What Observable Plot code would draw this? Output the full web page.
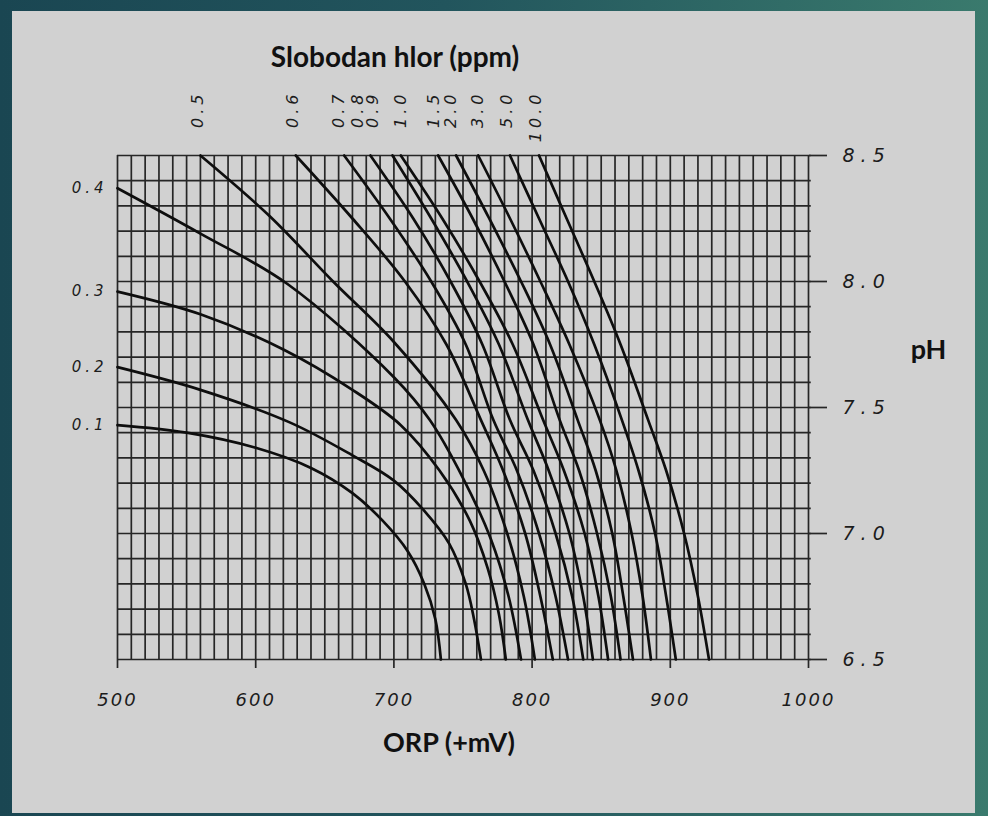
<!DOCTYPE html>
<html><head><meta charset="utf-8">
<script src="https://cdn.jsdelivr.net/npm/d3@7"></script>
<script src="https://cdn.jsdelivr.net/npm/@observablehq/plot@0.6"></script>
<style>
html,body{margin:0;padding:0;width:988px;height:816px;overflow:hidden;}
body{background:linear-gradient(90deg,#1a4652 0%,#22555d 45%,#3a7a6d 100%);position:relative;}
#panel{position:absolute;left:12px;top:11px;width:963px;height:802px;background:#d1d1d1;}
#chart{position:absolute;left:0;top:0;}
</style></head><body><div id="panel"></div><div id="chart"></div>
<script>
// Axis ticks and labels
const xTicks = [500, 600, 700, 800, 900, 1000];
const xTickLabels = ["500", "600", "700", "800", "900", "1000"];
const yTicks = [6.5, 7.0, 7.5, 8.0, 8.5];
const yTickLabels = ["6.5", "7.0", "7.5", "8.0", "8.5"];
const gridMV = d3.range(500, 1001, 10);
const gridPH = d3.range(65, 86).map(v => v / 10);

// Free chlorine curves: [ORP mV, pH]
const c0_1 = [[500,7.43],[550,7.40],[600,7.34],[640,7.26],[670,7.16],[692,7.05],[710,6.93],[722,6.80],[730,6.66],[734,6.5]];
const c0_2 = [[500,7.66],[560,7.57],[625,7.44],[670,7.31],[700,7.21],[722,7.09],[740,6.96],[752,6.80],[758,6.66],[763,6.5]];
const c0_3 = [[500,7.96],[560,7.87],[620,7.73],[670,7.57],[705,7.43],[733,7.25],[755,7.05],[768,6.86],[776,6.68],[781,6.5]];
const c0_4 = [[500,8.37],[560,8.19],[623,7.99],[700,7.62],[726,7.45],[750,7.22],[770,6.98],[783,6.75],[792,6.5]];
const c0_5 = [[560,8.5],[610,8.26],[656,8.0],[700,7.76],[745,7.45],[765,7.25],[782,7.0],[794,6.75],[802,6.5]];
const c0_6 = [[629,8.5],[670,8.25],[708,8.0],[738,7.75],[763,7.45],[779,7.25],[795,7.0],[806,6.75],[815,6.5]];
const c0_7 = [[664,8.5],[697,8.25],[727,8.0],[752,7.75],[772,7.45],[789,7.25],[805,7.0],[817,6.75],[826,6.5]];
const c0_8 = [[683,8.5],[714,8.25],[741,8.0],[764,7.75],[784,7.45],[801,7.25],[817,7.0],[829,6.75],[837,6.5]];
const c0_9 = [[699,8.5],[727,8.25],[753,8.0],[776,7.75],[797,7.45],[812,7.25],[827,7.0],[837,6.75],[844,6.5]];
const c1_0 = [[705,8.5],[735,8.25],[762,8.0],[786,7.75],[808,7.45],[823,7.25],[838,7.0],[848,6.75],[855,6.5]];
const c1_5 = [[732,8.5],[757,8.25],[780,8.0],[801,7.75],[820,7.45],[834,7.25],[847,7.0],[857,6.75],[864,6.5]];
const c2_0 = [[745,8.5],[769,8.25],[792,8.0],[813,7.75],[833,7.45],[846,7.25],[858,7.0],[866,6.75],[873,6.5]];
const c3_0 = [[761,8.5],[784,8.25],[806,8.0],[827,7.75],[849,7.45],[861,7.25],[872,7.0],[880,6.75],[886,6.5]];
const c5_0 = [[784,8.5],[805,8.25],[826,8.0],[845,7.75],[865,7.45],[877,7.25],[889,7.0],[897,6.75],[904,6.5]];
const c10_0 = [[805,8.5],[825,8.25],[845,8.0],[864,7.75],[884,7.45],[897,7.25],[910,7.0],[920,6.75],[928,6.5]];

const curveNames = ["0.1","0.2","0.3","0.4","0.5","0.6","0.7","0.8","0.9","1.0","1.5","2.0","3.0","5.0","10.0"];
const curveList = [c0_1,c0_2,c0_3,c0_4,c0_5,c0_6,c0_7,c0_8,c0_9,c1_0,c1_5,c2_0,c3_0,c5_0,c10_0];

// Labels on the left edge (curves starting at 500 mV)
const leftLabels = ["0.1","0.2","0.3","0.4"];
// Labels along the top (rotated), ORP position of each label
const topLabels = ["0.5","0.6","0.7","0.8","0.9","1.0","1.5","2.0","3.0","5.0","10.0"];
const topLabelMV = [558, 627, 660, 674, 685, 705, 729, 741, 760.5, 782, 802.5];

const rows = curveList.flatMap((pts, i) => pts.map(([mV, pH]) => ({name: curveNames[i], mV, pH})));
const leftRows = leftLabels.map(n => ({name: n, mV: curveList[curveNames.indexOf(n)][0][0], pH: curveList[curveNames.indexOf(n)][0][1]}));
const topRows = topLabels.map((n, i) => ({name: n, mV: topLabelMV[i]}));

const numFont = "DejaVu Sans";
const gridColor = "#262626";
const labelFont = "Lato";

const chart = Plot.plot({
  width: 988, height: 816,
  marginLeft: 117, marginRight: 180, marginTop: 155, marginBottom: 157,
  x: {domain: [500, 1000]},
  y: {domain: [6.5, 8.5]},
  style: {background: "transparent", overflow: "visible"},
  marks: [
    Plot.ruleX(gridMV, {stroke: gridColor, strokeWidth: 1.7}),
    Plot.ruleY(gridPH, {x1: 500, x2: 1002, stroke: gridColor, strokeWidth: 1.7}),
    Plot.axisX({anchor: "bottom", ticks: xTicks, tickFormat: d => xTickLabels[xTicks.indexOf(d)],
      tickSize: 9, tickPadding: 25, fontSize: 18, fontStyle: "italic", fontFamily: numFont,
      stroke: gridColor, strokeWidth: 1.7, fill: "#1c1c1c", label: null}),
    Plot.axisY({anchor: "right", ticks: yTicks, tickFormat: d => yTickLabels[yTicks.indexOf(d)],
      tickSize: 18, tickPadding: 16, fontSize: 19, fontStyle: "italic", fontFamily: numFont,
      stroke: gridColor, strokeWidth: 1.7, fill: "#1c1c1c", label: null}),
    Plot.line(rows, {x: "mV", y: "pH", z: "name", curve: "catmull-rom", stroke: "#0e0e0e", strokeWidth: 2.7}),
    Plot.text(leftRows, {x: "mV", y: "pH", text: "name", textAnchor: "end", lineAnchor: "middle", dx: -10,
      fontSize: 15, fontStyle: "italic", fontFamily: numFont, fill: "#1c1c1c"}),
    Plot.text(topRows, {x: "mV", text: "name", frameAnchor: "top", rotate: -90, textAnchor: "end", lineAnchor: "middle", dy: -65,
      fontSize: 16, fontStyle: "italic", fontFamily: numFont, fill: "#1c1c1c"}),
    Plot.text(["Slobodan hlor (ppm)"], {frameAnchor: "top", textAnchor: "middle", lineAnchor: "middle", dx: -68, dy: -97, fontSize: 28, fontWeight: "bold", fontFamily: labelFont, fill: "#111"}),
    Plot.text(["ORP (+mV)"], {frameAnchor: "bottom", textAnchor: "middle", lineAnchor: "middle", dx: -14, dy: 84, fontSize: 27, fontWeight: "bold", fontFamily: labelFont, fill: "#111"}),
    Plot.text(["pH"], {frameAnchor: "right", textAnchor: "middle", lineAnchor: "middle", dx: 120, dy: -57, fontSize: 27, fontWeight: "bold", fontFamily: labelFont, fill: "#111"})
  ]
});
document.getElementById("chart").appendChild(chart);
const leftSet = new Set(leftLabels), topSet = new Set(topLabels), xSet = new Set(xTickLabels), ySet = new Set(yTickLabels);
d3.select(chart).selectAll("text").each(function() {
  const t = this.textContent, s = d3.select(this);
  if (leftSet.has(t) || topSet.has(t)) s.style("letter-spacing", "4px").style("font-style", "italic").style("font-family", numFont);
  else if (ySet.has(t)) s.style("letter-spacing", "6px").style("font-style", "italic").style("font-family", numFont);
  else if (xSet.has(t)) s.style("letter-spacing", "2px").style("font-style", "italic").style("font-family", numFont);
});
</script></body></html>
